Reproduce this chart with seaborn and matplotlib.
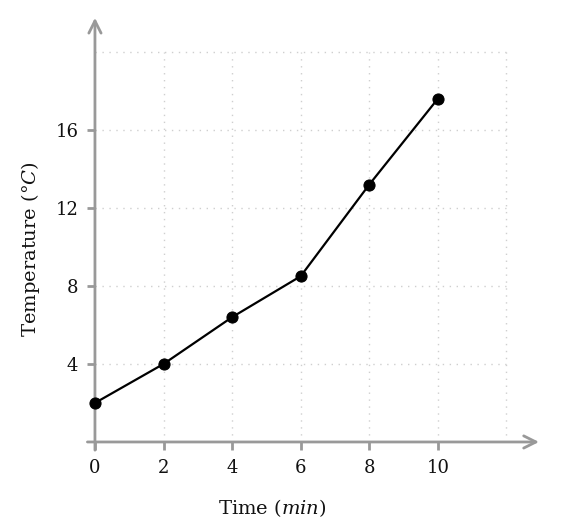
import matplotlib
matplotlib.use("Agg")
import matplotlib.pyplot as plt
import seaborn as sns
import pandas as pd

time_min = [0, 2, 4, 6, 8, 10]
temperature_c = [2.0, 4.0, 6.4, 8.5, 13.2, 17.6]
x_ticks = [0, 2, 4, 6, 8, 10]
y_ticks = [4, 8, 12, 16]
x_grid = [2, 4, 6, 8, 10, 12]
y_grid = [4, 8, 12, 16, 20]

sns.set_theme(style="white")
plt.rcParams['font.family'] = ['DejaVu Serif']
plt.rcParams['mathtext.fontset'] = 'custom'
plt.rcParams['mathtext.it'] = 'DejaVu Serif:italic'
plt.rcParams['mathtext.rm'] = 'DejaVu Serif'

df = pd.DataFrame({"time": time_min, "temp": temperature_c})

fig = plt.figure(figsize=(5.68, 5.32), dpi=100)
ax = fig.add_axes([0.137, 0.1509, 0.815, 0.8175])
ax.set_xlim(-0.5, 13.0)
ax.set_ylim(-0.5, 21.8)

axis_col = '#999999'
grid_col = '#cfcfcf'

ax.hlines(y_grid, 0, 12, colors=grid_col, linestyles=(0, (1, 4)), linewidth=1.0, zorder=1)
ax.vlines(x_grid, 0, 20, colors=grid_col, linestyles=(0, (1, 4)), linewidth=1.0, zorder=1)

sns.lineplot(data=df, x="time", y="temp", ax=ax, color='black', linewidth=1.6,
             marker='o', markersize=8, markeredgecolor='black', zorder=5)

# axis lines with arrows
ax.annotate('', xy=(12.95, 0), xytext=(-0.22, 0),
            arrowprops=dict(arrowstyle='->', color=axis_col, lw=2, mutation_scale=22,
                            shrinkA=0, shrinkB=0), zorder=3)
ax.annotate('', xy=(0, 21.75), xytext=(0, -0.42),
            arrowprops=dict(arrowstyle='->', color=axis_col, lw=2, mutation_scale=22,
                            shrinkA=0, shrinkB=0), zorder=3)

for s in ax.spines.values():
    s.set_visible(False)
ax.spines['bottom'].set_position(('data', 0))
ax.spines['left'].set_position(('data', 0))

ax.set_xticks(x_ticks)
ax.set_yticks(y_ticks)
ax.tick_params(axis='both', which='both', length=6, width=2, color=axis_col,
               labelsize=13, labelcolor='#111111', pad=6, direction='out',
               bottom=True, left=True)
ax.set_xlabel('Time ($min$)', fontsize=14, labelpad=0, color='#111111')
ax.set_ylabel('Temperature (°$C$)', fontsize=14, color='#111111')
ax.xaxis.set_label_coords(0.42, -0.105)
ax.yaxis.set_label_coords(-0.078, 0.466)
ax.grid(False)

fig.savefig('out.png', dpi=100)
